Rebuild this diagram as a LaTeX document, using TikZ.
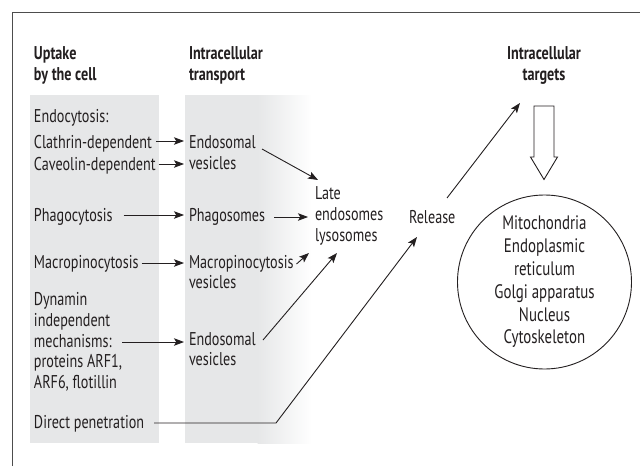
\documentclass[tikz,border=0pt]{standalone}
\usepackage{fontspec}
\setmainfont{PT Sans}[FakeStretch=0.765]
\usetikzlibrary{arrows.meta}
\definecolor{ink}{HTML}{231F20}
\definecolor{boxgray}{HTML}{E6E7E8}
\definecolor{framec}{HTML}{4D4D4D}
\tikzset{
  txt/.style={inner sep=0pt, outer sep=0pt, text=ink, align=left, anchor=base west,
    font=\fontsize{18.5}{20.7}\selectfont},
  hdr/.style={txt, font=\fontsize{18.5}{21}\selectfont\bfseries},
  arr/.style={draw=ink, line width=0.9pt, -{Stealth[length=10pt,width=7.5pt,inset=2.2pt]}},
}
\begin{document}
\begin{tikzpicture}[x=1pt,y=-1pt]
\useasboundingbox (0,0) rectangle (640,466);
\fill[white] (0,0) rectangle (640,466);
% frame
\draw[framec, line width=1pt] (12,466) -- (12,12) -- (640,12);
% grey panels
\fill[boxgray] (30,95) rectangle (159,443);
\fill[boxgray] (185,95) rectangle (258,443);
\shade[left color=boxgray, right color=white] (257.5,95) rectangle (312,443);
% headers (base anchor = last line)
\node[hdr] (h1) at (34,80) {Uptake\\by the cell};
\node[hdr] (h2) at (189,80) {Intracellular\\transport};
\node[hdr, align=center, anchor=base] (h3) at (544,80) {Intracellular\\targets};
% left column
\node[txt] (endocyt) at (34,122) {Endocytosis:};
\node[txt] (clath) at (34,148) {Clathrin-dependent};
\node[txt] (cave) at (34,170) {Caveolin-dependent};
\node[txt] (phago) at (34,221) {Phagocytosis};
\node[txt] (macro) at (34,268) {Macropinocytosis};
\node[txt] (dyn) at (34,388.5) {Dynamin\\independent\\mechanisms:\\proteins ARF1,\\ARF6, flotillin};
\node[txt] (direct) at (34,428) {Direct penetration};
% middle column
\node[txt, font=\fontsize{18.5}{20.5}\selectfont] (endoA) at (189,169) {Endosomal\\vesicles};
\node[txt] (phagos) at (189,221) {Phagosomes};
\node[txt, font=\fontsize{18.5}{20}\selectfont] (macrov) at (189,288) {Macropinocytosis\\vesicles};
\node[txt, font=\fontsize{18.5}{20}\selectfont] (endoB) at (189,365) {Endosomal\\vesicles};
% late endosomes, release
\node[txt, font=\fontsize{18.5}{21}\selectfont] (late) at (315,241) {Late\\endosomes\\lysosomes};
\node[txt] (release) at (409,223) {Release};
% targets
\node[circle, draw=ink, line width=0.9pt, minimum size=174pt, inner sep=0pt, align=center,
  text=ink, font=\fontsize{19.5}{22.8}\selectfont] (targ) at (544.5,282)
  {Mitochondria\\Endoplasmic\\reticulum\\Golgi apparatus\\Nucleus\\Cytoskeleton};
% hollow arrow
\draw[ink, line width=0.9pt, fill=white, line join=miter]
  (534,106) -- (554,106) -- (554,157) -- (557.5,157) -- (544,179.5) -- (530.5,157) -- (534,157) -- cycle;
% connectors
\draw[arr] ([xshift=4pt,yshift=7pt]clath.base east) -- ([xshift=-5pt,yshift=28pt]endoA.base west);
\draw[arr] ([xshift=3pt,yshift=6pt]cave.base east) -- ([xshift=-5pt,yshift=5pt]endoA.base west);
\draw[arr] ([xshift=11pt,yshift=6pt]phago.base east) -- ([xshift=-5pt,yshift=6pt]phagos.base west);
\draw[arr] ([xshift=9pt,yshift=4pt]phagos.base east) -- ([xshift=-7pt,yshift=24pt]late.base west);
\draw[arr] ([xshift=73pt,yshift=20pt]endoA.base west) -- ([xshift=3pt,yshift=61pt]late.base west);
\draw[arr] ([xshift=3pt,yshift=5pt]macro.base east) -- ([xshift=-5pt,yshift=25pt]macrov.base west);
\draw[arr] ([xshift=3pt,yshift=24pt]macrov.base east) -- ([xshift=-6pt,yshift=-12pt]late.base west);
\draw[arr] ([xshift=88pt,yshift=46.5pt]dyn.base west) -- ([xshift=-5pt,yshift=23pt]endoB.base west);
\draw[arr] ([xshift=74pt,yshift=25pt]endoB.base west) -- ([xshift=22pt,yshift=-12pt]late.base west);
\coordinate (bend) at (276,423);
\draw[arr] ([xshift=10pt,yshift=5pt]direct.base east) -- (bend) -- ([xshift=8pt,yshift=-14pt]release.base west);
\draw[arr] ([xshift=38pt,yshift=25pt]release.base west) -- ([xshift=-24pt,yshift=-23pt]h3.base);
\end{tikzpicture}
\end{document}
